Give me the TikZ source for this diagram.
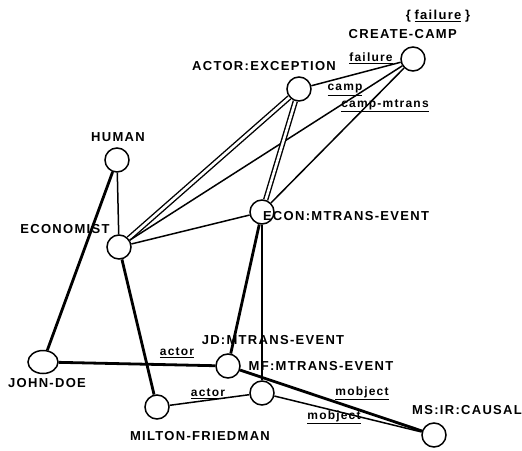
\documentclass[tikz,border=0pt]{standalone}
\usepackage{fontspec}
\setmainfont{Liberation Sans}[LetterSpace=10]
\usetikzlibrary{shapes.geometric}
\begin{document}
\begin{tikzpicture}[x=1pt,y=-1pt,
  cnode/.style={circle,draw,line width=1.5pt,minimum size=24pt,inner sep=0pt},
  enode/.style={ellipse,draw,line width=1.5pt,minimum width=30pt,minimum height=23pt,inner sep=0pt},
  lbl/.style={font=\bfseries\fontsize{13}{15}\selectfont,inner sep=0pt},
  rl/.style={font=\bfseries\fontsize{12}{14}\selectfont,inner sep=0pt},
  thin/.style={line width=1.5pt},
  thick/.style={line width=2.8pt},
  dbl/.style={double,line width=1.4pt,double distance=2.6pt}]
\useasboundingbox (0,0) rectangle (522,450);
% nodes
\node[cnode] (cc) at (413,59) {};
\node[cnode] (ae) at (299,89) {};
\node[cnode] (em) at (262,212) {};
\node[cnode] (hu) at (117,160) {};
\node[cnode] (ec) at (119,247) {};
\node[enode] (jd) at (43,362) {};
\node[cnode] (jdm) at (228,366) {};
\node[cnode] (mfm) at (262,393) {};
\node[cnode] (mf) at (157,407) {};
\node[cnode] (ms) at (434,435) {};
% node labels
\node[lbl] (tfail) at (438,16) {\{\;\underline{failure}\;\}};
\node[lbl,anchor=east] (tcc) at (457,34) {CREATE-CAMP};
\node[lbl] (tae) at (264,66) {ACTOR:EXCEPTION};
\node[lbl] (thu) at (118,137) {HUMAN};
\node[lbl] (tec) at (65,229) {ECONOMIST};
\node[lbl] (tem) at (346,216) {ECON:MTRANS-EVENT};
\node[lbl] (tjdm) at (273,340) {JD:MTRANS-EVENT};
\node[lbl] (tmfm) at (321,366) {MF:MTRANS-EVENT};
\node[lbl] (tjd) at (47,383) {JOHN-DOE};
\node[lbl] (tmf) at (200,436) {MILTON-FRIEDMAN};
\node[lbl] (tms) at (467,410) {MS:IR:CAUSAL};
% edges
\draw[thin] (hu) -- (ec);
\draw[thick] (hu) -- (jd);
\draw[thick] (ec) -- (mf);
\draw[dbl] (ec) -- (ae);
\draw[thin] (ec) -- (cc);
\draw[thin] (ec) -- (em);
\draw[dbl] (ae) -- (em);
\draw[thin] (ae) -- (cc);
\draw[thin] (em) -- (cc);
\draw[thick] (em) -- (jdm);
\draw[thin] (em) -- (mfm);
\draw[thick] (jd) -- (jdm);
\draw[thin] (mf) -- (mfm);
\draw[thick] (jdm) -- (ms);
\draw[thin] (mfm) -- (ms);
% relation labels
\node[rl] (lfail) at (371,58) {\underline{failure}};
\node[rl] (lcamp) at (345,90) {\underline{camp}};
\node[rl] (lcm) at (385,106) {\underline{camp-mtrans}};
\node[rl] (la1) at (177,353) {\underline{actor}};
\node[rl] (la2) at (208,394) {\underline{actor}};
\node[rl] (lm1) at (362,393) {\underline{mobject}};
\node[rl] (lm2) at (334,417) {\underline{mobject}};
\end{tikzpicture}
\end{document}
